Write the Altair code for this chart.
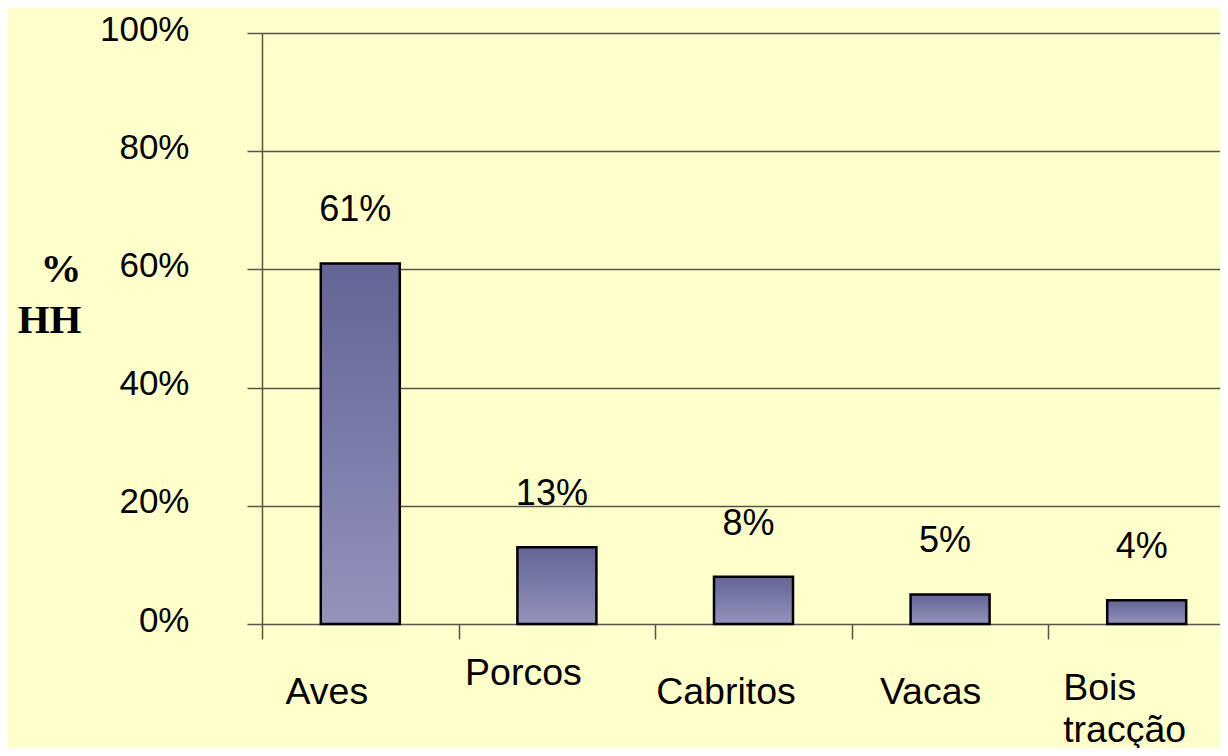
import altair as alt
import pandas as pd

categories = ["Aves", "Porcos", "Cabritos", "Vacas", "Bois tracção"]
shares = [0.61, 0.13, 0.08, 0.05, 0.04]
share_labels = ["61%", "13%", "8%", "5%", "4%"]
y_ticks = [0, 0.2, 0.4, 0.6, 0.8, 1.0]

df = pd.DataFrame({"animal": categories, "share": shares, "label": share_labels})

LINE = "#55554a"

x_scale = alt.Scale(domain=categories, range=[0, 983], paddingInner=0, paddingOuter=0)
y_scale = alt.Scale(domain=[0, 1], nice=False)

x_axis = alt.Axis(
    title=None, tickBand="extent", domain=False, ticks=True, tickSize=15,
    tickColor=LINE, tickWidth=1.5, grid=False, labelAngle=0,
    labelFont="Liberation Sans", labelFontSize=37.5, labelColor="black",
    labelBaseline="alphabetic", labelLineHeight=42, labelOverlap=False,
    labelExpr="split(datum.label, ' ')",
    labelAlign={"condition": {"test": "datum.value === 'Bois tracção'", "value": "left"}, "value": "center"},
    labelOffset={"condition": [
        {"test": "datum.value === 'Aves'", "value": -34},
        {"test": "datum.value === 'Porcos'", "value": -34},
        {"test": "datum.value === 'Cabritos'", "value": -28},
        {"test": "datum.value === 'Vacas'", "value": -20},
    ], "value": -84},
    labelPadding={"condition": [
        {"test": "datum.value === 'Porcos'", "value": 45},
        {"test": "datum.value === 'Bois tracção'", "value": 60},
    ], "value": 64},
)

y_axis = alt.Axis(
    title=["%", "HH"], values=y_ticks, format=".0%",
    domain=True, domainColor=LINE, domainWidth=1.5,
    ticks=True, tickSize=15, tickColor=LINE, tickWidth=1.5,
    grid=True, gridColor=LINE, gridWidth=1.5,
    labelFont="Liberation Sans", labelFontSize=35, labelColor="black",
    labelPadding=58, labelOffset=-4,
    titleAngle=0, titleFont="Liberation Serif", titleFontWeight="bold",
    titleFontSize=41, titleColor="black", titleAlign="right",
    titleBaseline="alphabetic", titleX=-181, titleY=248, titleLineHeight=51,
)

gradient = alt.Gradient(
    gradient="linear",
    stops=[alt.GradientStop(color="#646496", offset=0),
           alt.GradientStop(color="#9393bb", offset=1)],
    x1=0, x2=0, y1=0, y2=1,
)

base = alt.Chart(df).encode(
    x=alt.X("animal:N", scale=x_scale, axis=x_axis, sort=categories),
    y=alt.Y("share:Q", scale=y_scale, axis=y_axis),
)

bars = base.mark_bar(size=79, fill=gradient, stroke="black", strokeWidth=2.5)
texts = base.mark_text(font="Liberation Sans", fontSize=36, baseline="alphabetic",
                       dy=-42, dx=-5, color="black").encode(text="label:N")

chart = alt.layer(bars, texts).properties(
    width=958, height=591,
    autosize=alt.AutoSizeParams(type="none"),
    padding={"left": 254, "top": 25, "right": 0, "bottom": 124},
).configure(background="#FFFFCC").configure_view(stroke=None)

chart.save("out.html", embed_options={"renderer": "svg", "actions": False})
